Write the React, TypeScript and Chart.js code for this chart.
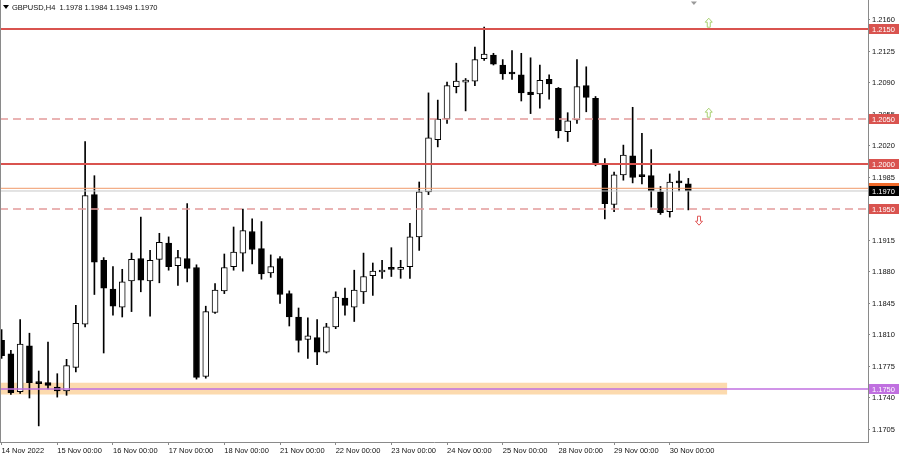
import React, { useEffect, useRef } from 'react';
import { Chart, registerables } from 'chart.js';

Chart.register(...registerables);

// ---------- data ----------
const CHART_TITLE = 'GBPUSD,H4  1.1978 1.1984 1.1949 1.1970';

const OPEN = [
  1.1804, 1.1789, 1.1747, 1.1798, 1.1757, 1.1757, 1.1752, 1.1748, 1.1774, 1.1822,
  1.1966, 1.1893, 1.1861, 1.1841, 1.1870, 1.1895, 1.1870, 1.1894, 1.1912, 1.1887,
  1.1895, 1.1885, 1.1764, 1.1835, 1.1859, 1.1886, 1.1901, 1.1925, 1.1906, 1.1879,
  1.1895, 1.1856, 1.1830, 1.1805, 1.1807, 1.1791, 1.1819, 1.1851, 1.1841, 1.1858,
  1.1876, 1.1880, 1.1884, 1.1883, 1.1886, 1.1919, 1.1969, 1.2027, 1.2050, 1.2086,
  1.2091, 1.2092, 1.2117, 1.2121, 1.2110, 1.2101, 1.2099, 1.2080, 1.2078, 1.2094,
  1.2084, 1.2036, 1.2049, 1.2087, 1.2073, 1.2000, 1.1955, 1.1988, 1.2009, 1.1987,
  1.1987, 1.1969, 1.1947, 1.1980, 1.1978,
];
const HIGH = [
  1.1816, 1.1793, 1.1827, 1.1812, 1.1770, 1.1802, 1.1767, 1.1783, 1.1843, 1.2025,
  1.1987, 1.1896, 1.1886, 1.1883, 1.1901, 1.1941, 1.1904, 1.1923, 1.1919, 1.1904,
  1.1956, 1.1888, 1.1842, 1.1867, 1.1900, 1.1930, 1.1950, 1.1939, 1.1936, 1.1899,
  1.1897, 1.1859, 1.1840, 1.1829, 1.1827, 1.1823, 1.1858, 1.1862, 1.1882, 1.1901,
  1.1890, 1.1893, 1.1907, 1.1893, 1.1934, 1.1980, 1.2079, 1.2071, 1.2091, 1.2112,
  1.2095, 1.2130, 1.2152, 1.2123, 1.2116, 1.2126, 1.2123, 1.2118, 1.2110, 1.2099,
  1.2085, 1.2057, 1.2116, 1.2108, 1.2075, 1.2006, 1.1991, 1.2021, 1.2063, 1.2034,
  1.2016, 1.1975, 1.1989, 1.1992, 1.1984,
];
const LOW = [
  1.1784, 1.1744, 1.1745, 1.1740, 1.1709, 1.1750, 1.1741, 1.1743, 1.1769, 1.1819,
  1.1855, 1.1790, 1.1832, 1.1830, 1.1836, 1.1858, 1.1831, 1.1868, 1.1882, 1.1865,
  1.1869, 1.1761, 1.1762, 1.1834, 1.1856, 1.1882, 1.1881, 1.1889, 1.1872, 1.1874,
  1.1845, 1.1820, 1.1791, 1.1784, 1.1777, 1.1790, 1.1817, 1.1832, 1.1825, 1.1845,
  1.1854, 1.1873, 1.1875, 1.1873, 1.1873, 1.1904, 1.1966, 1.2019, 1.2045, 1.2079,
  1.2059, 1.2087, 1.2115, 1.2110, 1.2094, 1.2094, 1.2070, 1.2056, 1.2062, 1.2072,
  1.2029, 1.2025, 1.2045, 1.2058, 1.1998, 1.1939, 1.1947, 1.1982, 1.1979, 1.1978,
  1.1952, 1.1944, 1.1941, 1.1970, 1.1949,
];
const CLOSE = [
  1.1787, 1.1746, 1.1800, 1.1757, 1.1756, 1.1754, 1.1748, 1.1776, 1.1823, 1.1965,
  1.1891, 1.1862, 1.1842, 1.1869, 1.1894, 1.1871, 1.1893, 1.1913, 1.1886, 1.1896,
  1.1884, 1.1763, 1.1836, 1.1860, 1.1885, 1.1902, 1.1926, 1.1905, 1.1878, 1.1886,
  1.1855, 1.1830, 1.1804, 1.1809, 1.1791, 1.1819, 1.1852, 1.1843, 1.1860, 1.1875,
  1.1881, 1.1882, 1.1883, 1.1885, 1.1919, 1.1969, 1.2029, 1.2050, 1.2087, 1.2092,
  1.2093, 1.2116, 1.2122, 1.2111, 1.2100, 1.2100, 1.2079, 1.2077, 1.2093, 1.2089,
  1.2037, 1.2048, 1.2086, 1.2074, 1.2000, 1.1956, 1.1988, 1.2010, 1.1985, 1.1986,
  1.1970, 1.1946, 1.1980, 1.1979, 1.1970,
];

const DAY_LABELS = [
  '14 Nov 2022', '15 Nov 00:00', '16 Nov 00:00', '17 Nov 00:00', '18 Nov 00:00',
  '21 Nov 00:00', '22 Nov 00:00', '23 Nov 00:00', '24 Nov 00:00', '25 Nov 00:00',
  '28 Nov 00:00', '29 Nov 00:00', '30 Nov 00:00',
];
const BARS_PER_DAY = 6;

const PRICE_TICKS = [
  1.2160, 1.2125, 1.2090, 1.2055, 1.2020, 1.1985, 1.1950,
  1.1915, 1.1880, 1.1845, 1.1810, 1.1775, 1.1740, 1.1705,
];

const SOLID_LEVELS = [1.2150, 1.2000];
const DASHED_LEVELS = [1.2050, 1.1950];
const ASK_PRICE = 1.1973;
const BID_PRICE = 1.1970;
const SUPPORT_LEVEL = 1.1750;
const ZONE_TOP = 1.1757;
const ZONE_BOTTOM = 1.1744;
const ZONE_END_INDEX = 78.2;

const UP_ARROWS = [
  { x: 76.2, y: 1.2157 },
  { x: 76.2, y: 1.2057 },
];
const DOWN_ARROWS = [{ x: 75.15, y: 1.1937 }];
const SHIFT_MARK = { x: 74.6, y: 1.2179 };

// ---------- axis range / styles ----------
const X_MIN = -0.172;
const X_MAX = 93.36;
const Y_MIN = 1.169111;
const Y_MAX = 1.218222;

const RED = '#d9534f';
const DASH_RED = '#e49a9a';
const ORANGE = '#f09a6a';
const PURPLE = '#c070e0';
const FRAME = '#8a8a8a';
const FONT_FAMILY = '"Liberation Sans", Arial, sans-serif';
const FONT_SIZE = 7.5;

const AXIS_TAGS = [
  { value: 1.2150, bg: RED, fg: '#ffffff' },
  { value: 1.2050, bg: RED, fg: '#ffffff' },
  { value: 1.2000, bg: RED, fg: '#ffffff' },
  { value: ASK_PRICE, bg: '#f06a2a', fg: '#ffffff' },
  { value: BID_PRICE, bg: '#000000', fg: '#ffffff' },
  { value: 1.1950, bg: RED, fg: '#ffffff' },
  { value: SUPPORT_LEVEL, bg: PURPLE, fg: '#ffffff' },
];

function levelLine(value: number, color: string, width: number, dash: number[] = [], order = 0) {
  return {
    type: 'line' as const,
    data: [
      { x: X_MIN, y: value },
      { x: X_MAX, y: value },
    ],
    borderColor: color,
    borderWidth: width,
    borderDash: dash,
    pointRadius: 0,
    fill: false,
    order,
  };
}

const overlayPlugin = {
  id: 'mtOverlay',
  afterDraw(chart: any) {
    const { ctx, chartArea, scales } = chart;
    const xs = scales.x;
    const ys = scales.y;
    ctx.save();

    // left frame
    ctx.strokeStyle = FRAME;
    ctx.lineWidth = 1;
    ctx.beginPath();
    ctx.moveTo(0.5, chartArea.top);
    ctx.lineTo(0.5, chartArea.bottom);
    ctx.stroke();

    // title
    ctx.fillStyle = '#000';
    ctx.beginPath();
    ctx.moveTo(3, 5);
    ctx.lineTo(9, 5);
    ctx.lineTo(6, 9);
    ctx.closePath();
    ctx.fill();
    ctx.font = `${FONT_SIZE}px ${FONT_FAMILY}`;
    ctx.textBaseline = 'middle';
    ctx.textAlign = 'left';
    ctx.fillStyle = '#111';
    ctx.fillText(CHART_TITLE, 12, 7.5);

    // shift marker
    {
      const cx = xs.getPixelForValue(SHIFT_MARK.x);
      const cy = ys.getPixelForValue(SHIFT_MARK.y);
      ctx.fillStyle = '#9a9a9a';
      ctx.beginPath();
      ctx.moveTo(cx - 3, cy - 1.5);
      ctx.lineTo(cx + 3, cy - 1.5);
      ctx.lineTo(cx, cy + 2);
      ctx.closePath();
      ctx.fill();
    }

    // arrows
    const arrow = (cx: number, cy: number, dir: number, color: string) => {
      const s = dir; // 1 = up, -1 = down
      ctx.strokeStyle = color;
      ctx.lineWidth = 1;
      ctx.beginPath();
      ctx.moveTo(cx, cy - 4.5 * s);
      ctx.lineTo(cx + 3.5, cy - 0.5 * s);
      ctx.lineTo(cx + 1.5, cy - 0.5 * s);
      ctx.lineTo(cx + 1.5, cy + 4.5 * s);
      ctx.lineTo(cx - 1.5, cy + 4.5 * s);
      ctx.lineTo(cx - 1.5, cy - 0.5 * s);
      ctx.lineTo(cx - 3.5, cy - 0.5 * s);
      ctx.closePath();
      ctx.stroke();
    };
    UP_ARROWS.forEach((a) => arrow(xs.getPixelForValue(a.x), ys.getPixelForValue(a.y), 1, '#a8d070'));
    DOWN_ARROWS.forEach((a) => arrow(xs.getPixelForValue(a.x), ys.getPixelForValue(a.y), -1, '#e05a5a'));

    // axis price tags
    ctx.font = `${FONT_SIZE}px ${FONT_FAMILY}`;
    AXIS_TAGS.forEach((t) => {
      const y = ys.getPixelForValue(t.value);
      ctx.fillStyle = t.bg;
      ctx.fillRect(chartArea.right + 1, Math.round(y) - 5, 30, 10);
      ctx.fillStyle = t.fg;
      ctx.textBaseline = 'middle';
      ctx.fillText(t.value.toFixed(4), chartArea.right + 4, Math.round(y) + 0.5);
    });

    ctx.restore();
  },
};

export default function App() {
  const canvasRef = useRef<HTMLCanvasElement | null>(null);

  useEffect(() => {
    const canvas = canvasRef.current;
    if (!canvas) return;

    const idx = OPEN.map((_, i) => i);
    const wicks = idx.map((i) => ({ x: i, y: [LOW[i], HIGH[i]] }));
    const bodies = idx.map((i) => ({ x: i, y: [OPEN[i], CLOSE[i]] }));
    const bodyColors = idx.map((i) => (CLOSE[i] > OPEN[i] ? '#ffffff' : '#000000'));

    const chart = new Chart(canvas, {
      type: 'bar',
      data: {
        datasets: [
          // zone band (fill between the two lines)
          {
            type: 'line',
            data: [
              { x: X_MIN, y: ZONE_TOP },
              { x: ZONE_END_INDEX, y: ZONE_TOP },
            ],
            borderWidth: 0,
            borderColor: 'rgba(0,0,0,0)',
            backgroundColor: 'rgba(252,212,160,0.85)',
            pointRadius: 0,
            fill: '+1',
            order: 5,
          } as any,
          {
            type: 'line',
            data: [
              { x: X_MIN, y: ZONE_BOTTOM },
              { x: ZONE_END_INDEX, y: ZONE_BOTTOM },
            ],
            borderWidth: 0,
            borderColor: 'rgba(0,0,0,0)',
            pointRadius: 0,
            fill: false,
            order: 5,
          } as any,
          {
            type: 'bar',
            data: wicks,
            backgroundColor: '#000000',
            borderWidth: 0,
            barThickness: 1,
            grouped: false,
            order: 2,
          } as any,
          {
            type: 'bar',
            data: bodies,
            backgroundColor: bodyColors,
            borderColor: '#000000',
            borderWidth: 1,
            borderSkipped: false,
            barThickness: 6,
            minBarLength: 2,
            grouped: false,
            order: 1,
          } as any,
          levelLine(SOLID_LEVELS[0], RED, 2) as any,
          levelLine(SOLID_LEVELS[1], RED, 2) as any,
          levelLine(DASHED_LEVELS[0], DASH_RED, 1.5, [8, 5]) as any,
          levelLine(DASHED_LEVELS[1], DASH_RED, 1.5, [8, 5]) as any,
          levelLine(BID_PRICE, '#c8c8c8', 1) as any,
          levelLine(ASK_PRICE, ORANGE, 1) as any,
          levelLine(SUPPORT_LEVEL, PURPLE, 1.5) as any,
        ],
      },
      options: {
        responsive: false,
        devicePixelRatio: 1,
        animation: false,
        events: [],
        layout: { padding: { left: 0, top: 0, right: 0, bottom: 0 } },
        plugins: {
          legend: { display: false },
          tooltip: { enabled: false },
          title: { display: false },
        },
        scales: {
          x: {
            type: 'linear',
            position: 'bottom',
            min: X_MIN,
            max: X_MAX,
            offset: false,
            afterBuildTicks: (s: any) => {
              s.ticks = DAY_LABELS.map((_, k) => ({ value: k * BARS_PER_DAY }));
            },
            afterFit: (s: any) => {
              s.height = 12;
              s.paddingLeft = 0;
              s.paddingRight = 0;
              s.paddingTop = 0;
              s.paddingBottom = 0;
            },
            ticks: {
              autoSkip: false,
              maxRotation: 0,
              minRotation: 0,
              align: 'start',
              padding: 1,
              color: '#111',
              font: { family: FONT_FAMILY, size: FONT_SIZE },
              callback: (v: any) => DAY_LABELS[Math.round(Number(v) / BARS_PER_DAY)] ?? '',
            },
            grid: {
              offset: false,
              drawOnChartArea: false,
              drawTicks: true,
              tickLength: 3,
              color: FRAME,
            },
            border: { display: true, color: FRAME, width: 1 },
          } as any,
          y: {
            type: 'linear',
            position: 'right',
            min: Y_MIN,
            max: Y_MAX,
            afterBuildTicks: (s: any) => {
              s.ticks = PRICE_TICKS.map((v) => ({ value: v }));
            },
            afterFit: (s: any) => {
              s.width = 32;
              s.paddingLeft = 0;
              s.paddingRight = 0;
              s.paddingTop = 0;
              s.paddingBottom = 0;
            },
            ticks: {
              padding: 2,
              color: '#111',
              font: { family: FONT_FAMILY, size: FONT_SIZE },
              callback: (v: any) => Number(v).toFixed(4),
            },
            grid: {
              drawOnChartArea: false,
              drawTicks: true,
              tickLength: 2,
              color: FRAME,
            },
            border: { display: true, color: FRAME, width: 1 },
          } as any,
        },
      },
      plugins: [overlayPlugin],
    } as any);

    return () => chart.destroy();
  }, []);

  return (
    <div style={{ position: 'fixed', left: 0, top: 0, width: 900, height: 454, background: '#fff' }}>
      <canvas ref={canvasRef} width={900} height={454} style={{ display: 'block' }} />
    </div>
  );
}
